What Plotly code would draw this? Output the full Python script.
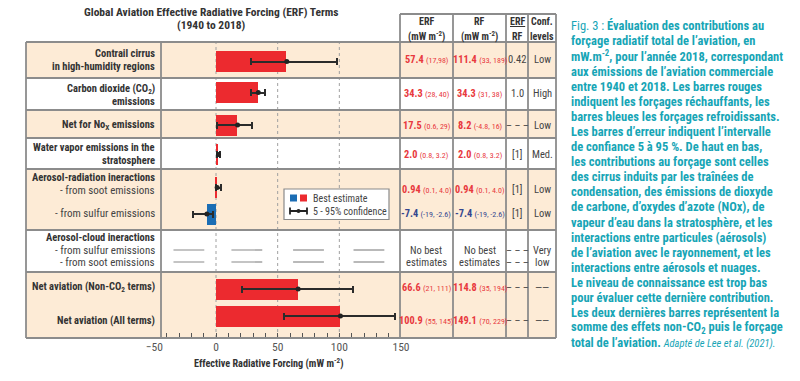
import plotly.graph_objects as go

W, H = 800, 381
FONT = "Roboto Condensed, Roboto, Arial, sans-serif"
RED = "#ec2a2f"
BLUE = "#1b6db4"
TXT_RED = "#e8383d"
TXT_BLUE = "#34468f"
BEIGE = "#fdebd6"
GRIDC = "#a0a0a0"
BORDER = "#8c8c8c"
DARK = "#333333"
TEAL = "#17a5b6"

# ---------------- data ----------------
terms = ["Contrail cirrus", "Carbon dioxide", "NOx", "Water vapor", "Soot", "Sulfur",
         "Net aviation (Non-CO2)", "Net aviation (All)"]
erf_best = [57.4, 34.3, 17.5, 2.0, 0.94, -7.4, 66.6, 100.9]
erf_low = [28, 28, 0.6, 0.8, 0.1, -19, 21, 55]
erf_high = [98, 40, 29, 3.2, 4.0, -2.6, 111, 145]

erf_vals = ["57.4", "34.3", "17.5", "2.0", "0.94", "-7.4", "66.6", "100.9"]
erf_rng = ["(17,98)", "(28, 40)", "(0.6, 29)", "(0.8, 3.2)", "(0.1, 4.0)", "(-19, -2.6)", "(21, 111)", "(55, 145)"]
rf_vals = ["111.4", "34.3", "8.2", "2.0", "0.94", "-7.4", "114.8", "149.1"]
rf_rng = ["(33, 189)", "(31, 38)", "(-4.8, 16)", "(0.8, 3.2)", "(0.1, 4.0)", "(-19, -2.6)", "(35, 194)", "(70, 229)"]
ratio = ["0.42", "1.0", "– – –", "[1]", "[1]", "[1]", "– – –", "– – –"]
conf = ["Low", "High", "Low", "Med.", "Low", "Low", "——", "——"]

x_ticks = [-50, 0, 50, 100, 150]
x_minor = [-40, -30, -20, -10, 0, 10, 20, 30, 40, 50, 60, 70, 80, 90, 100, 110, 120, 130, 140]
grid_vals = [0, 50, 100]
no_estimate_centers = [-22, 25, 75, 124]

# ---------------- layout helpers (pixel positions) ----------------
bar_y = [61.5, 92.5, 125, 154.5, 187.5, 214, 289, 316]
text_y = [60, 94, 125, 154, 189.5, 213.5, 287, 320]
row_edges = [42, 78, 110, 138, 169, 230, 272, 338]
row_fill = [BEIGE, "white", BEIGE, "white", BEIGE, "white", BEIGE]
col_edges = [400, 453, 506, 528, 556]
col_center = [426.5, 479.5, 517, 542]


def px(x):
    return x / W


def py(y):
    return 1 - y / H


fig = go.Figure()

colors = [RED if v >= 0 else BLUE for v in erf_best]
fig.add_trace(go.Bar(
    x=erf_best, y=bar_y, orientation="h", width=21,
    marker=dict(color=colors, line=dict(width=0)),
    error_x=dict(type="data", symmetric=False,
                 array=[h - b for h, b in zip(erf_high, erf_best)],
                 arrayminus=[b - l for b, l in zip(erf_best, erf_low)],
                 color="#2b2b2b", thickness=2, width=3.5),
    hoverinfo="skip", showlegend=False,
))
fig.add_trace(go.Scatter(
    x=erf_best, y=bar_y, mode="markers",
    marker=dict(color="#222222", size=5), hoverinfo="skip", showlegend=False,
))

shapes = []
for i, c in enumerate(row_fill):
    shapes.append(dict(type="rect", xref="paper", yref="paper", x0=px(26), x1=px(556),
                       y0=py(row_edges[i + 1]), y1=py(row_edges[i]), fillcolor=c,
                       line=dict(width=0), layer="below"))
shapes.append(dict(type="rect", xref="paper", yref="paper", x0=px(400), x1=px(556),
                   y0=py(42), y1=py(14), fillcolor="white", line=dict(width=0), layer="below"))
for g in grid_vals:
    shapes.append(dict(type="line", xref="x", yref="paper", x0=g, x1=g, y0=py(338), y1=py(42),
                       line=dict(color=GRIDC, width=1, dash="dot"), layer="below"))
for c in no_estimate_centers:
    for yy in (250, 262):
        shapes.append(dict(type="line", xref="x", yref="paper", x0=c - 12.5, x1=c + 12.5,
                           y0=py(yy), y1=py(yy), line=dict(color="#8a8a8a", width=1.2)))
for e in row_edges:
    shapes.append(dict(type="line", xref="paper", yref="paper", x0=px(26), x1=px(556),
                       y0=py(e), y1=py(e), line=dict(color=BORDER, width=1.8)))
shapes.append(dict(type="line", xref="paper", yref="paper", x0=px(400), x1=px(556),
                   y0=py(14), y1=py(14), line=dict(color=BORDER, width=1.8)))
for xv, top in [(26, 42), (161, 42)] + [(c, 14) for c in col_edges]:
    shapes.append(dict(type="line", xref="paper", yref="paper", x0=px(xv), x1=px(xv),
                       y0=py(338), y1=py(top), line=dict(color=BORDER, width=1.8)))

# legend box
shapes.append(dict(type="rect", xref="paper", yref="paper", x0=px(284), x1=px(389),
                   y0=py(219.5), y1=py(189), fillcolor="white", line=dict(color="#8a8a8a", width=1.2)))
shapes.append(dict(type="rect", xref="paper", yref="paper", x0=px(290), x1=px(297),
                   y0=py(201.5), y1=py(194.5), fillcolor=BLUE, line=dict(width=0)))
shapes.append(dict(type="rect", xref="paper", yref="paper", x0=px(300), x1=px(307),
                   y0=py(201.5), y1=py(194.5), fillcolor=RED, line=dict(width=0)))
shapes.append(dict(type="line", xref="paper", yref="paper", x0=px(290), x1=px(307),
                   y0=py(211), y1=py(211), line=dict(color="#222", width=2)))
for xv in (290, 307):
    shapes.append(dict(type="line", xref="paper", yref="paper", x0=px(xv), x1=px(xv),
                       y0=py(214.5), y1=py(207.5), line=dict(color="#222", width=1.8)))
shapes.append(dict(type="circle", xref="paper", yref="paper", x0=px(296.5), x1=px(300.5),
                   y0=py(213), y1=py(209), fillcolor="#222", line=dict(width=0)))

ann = []


def txt(x, y, s, size=12, color=DARK, anchor="center"):
    ann.append(dict(x=px(x), y=py(y), xref="paper", yref="paper", text=s, showarrow=False,
                    xanchor=anchor, yanchor="middle", borderpad=0,
                    font=dict(family=FONT, size=size, color=color)))


# title
txt(211, 12, "<b>Global Aviation Effective Radiative Forcing (ERF) Terms</b>", 11.5)
txt(211, 25, "<b>(1940 to 2018)</b>", 11.5)

# left labels
L = 155.5
left_labels = [
    (54, "<b>Contrail cirrus</b>"), (66.5, "<b>in high-humidity regions</b>"),
    (89, "<b>Carbon dioxide (CO<sub>2</sub>)</b>"), (102, "<b>emissions</b>"),
    (125, "<b>Net for No<sub>X</sub> emissions</b>"),
    (147.5, "<b>Water vapor emissions in the</b>"), (160, "<b>stratosphere</b>"),
    (177.5, "<b>Aerosol-radiation ineractions</b>"),
    (237.5, "<b>Aerosol-cloud ineractions</b>"),
    (287, "<b>Net aviation (Non-CO<sub>2</sub> terms)</b>"), (320, "<b>Net aviation (All terms)</b>"),
]
for yy, s in left_labels:
    txt(L, yy, s, 10.5, DARK, "right")
for yy, s in [(190, "- from soot emissions"), (213.5, "- from sulfur emissions"),
              (250, "- from sulfur emissions"), (262, "- from soot emissions")]:
    txt(L, yy, s, 11, "#444", "right")

# header
for c, (a, b) in zip(col_center, [("ERF", "(mW m<sup>-2</sup>)"), ("RF", "(mW m<sup>-2</sup>)"),
                                  ("<u>ERF</u>", "RF"), ("Conf.", "levels")]):
    txt(c, 22, "<b>" + a + "</b>", 10)
    txt(c, 36.5, "<b>" + b + "</b>", 10)

# table values
for i in range(len(terms)):
    col = TXT_BLUE if erf_best[i] < 0 else TXT_RED
    txt(col_center[0], text_y[i], "<b>%s</b> <span style='font-size:8px'>%s</span>" % (erf_vals[i], erf_rng[i]), 10.3, col)
    txt(col_center[1], text_y[i], "<b>%s</b> <span style='font-size:8px'>%s</span>" % (rf_vals[i], rf_rng[i]), 10.3, col)
    txt(col_center[2], text_y[i], ratio[i], 10.5, "#444")
    txt(col_center[3], text_y[i], conf[i], 10.5, "#444")
for c in col_center[:2]:
    txt(c, 250, "No best", 10.5, "#444")
    txt(c, 262.5, "estimates", 10.5, "#444")
txt(col_center[2], 250, "– – –", 10.5, "#444")
txt(col_center[2], 262.5, "– – –", 10.5, "#444")
txt(col_center[3], 250, "Very", 10.5, "#444")
txt(col_center[3], 262.5, "low", 10.5, "#444")

# legend text
txt(312, 198, "Best estimate", 10, "#444", "left")
txt(312, 211, "5 - 95% confidence", 10, "#444", "left")

# x-axis title
txt(268.7, 363, "<b>Effective Radiative Forcing (mW m<sup>-2</sup>)</b>", 10.2)

# caption
caption = [
    "Fig. 3 : <b>Évaluation des contributions au</b>",
    "<b>forçage radiatif total de l’aviation, en</b>",
    "<b>mW.m<sup>-2</sup>, pour l’année 2018, correspondant</b>",
    "<b>aux émissions de l’aviation commerciale</b>",
    "<b>entre 1940 et 2018. Les barres rouges</b>",
    "<b>indiquent les forçages réchauffants, les</b>",
    "<b>barres bleues les forçages refroidissants.</b>",
    "<b>Les barres d’erreur indiquent l’intervalle</b>",
    "<b>de confiance 5 à 95 %. De haut en bas,</b>",
    "<b>les contributions au forçage sont celles</b>",
    "<b>des cirrus induits par les traînées de</b>",
    "<b>condensation, des émissions de dioxyde</b>",
    "<b>de carbone, d’oxydes d’azote (NOx), de</b>",
    "<b>vapeur d’eau dans la stratosphère, et les</b>",
    "<b>interactions entre particules (aérosols)</b>",
    "<b>de l’aviation avec le rayonnement, et les</b>",
    "<b>interactions entre aérosols et nuages.</b>",
    "<b>Le niveau de connaissance est trop bas</b>",
    "<b>pour évaluer cette dernière contribution.</b>",
    "<b>Les deux dernières barres représentent la</b>",
    "<b>somme des effets non-CO<sub>2</sub> puis le forçage</b>",
    "<b>total de l’aviation.</b> <i><span style='font-size:10.5px'>Adapté de Lee et al. (2021).</span></i>",
]
for i, s in enumerate(caption):
    txt(570, 25.7 + 15.1 * i, s, 12.5, TEAL, "left")

fig.update_layout(
    width=W, height=H, margin=dict(l=0, r=0, t=0, b=0),
    paper_bgcolor="white", plot_bgcolor="rgba(0,0,0,0)",
    shapes=shapes, annotations=ann, showlegend=False, bargap=0,
    xaxis=dict(domain=[px(154.35), px(401)], range=[-50, 150], tickvals=x_ticks,
               ticks="", showgrid=False, zeroline=False, showline=False, mirror="ticks",
               automargin=False,
               tickfont=dict(family=FONT, size=11.5, color="#555"),
               minor=dict(tickmode="array", tickvals=x_minor, ticks="inside", ticklen=5,
                          tickcolor="#555", tickwidth=1, showgrid=False),
               fixedrange=True),
    yaxis=dict(domain=[py(338), py(42)], range=[338, 42], visible=False, fixedrange=True,
               automargin=False),
)

fig.write_html("out.html", config={"displayModeBar": False},
               post_script="document.body.style.margin='0px';")
